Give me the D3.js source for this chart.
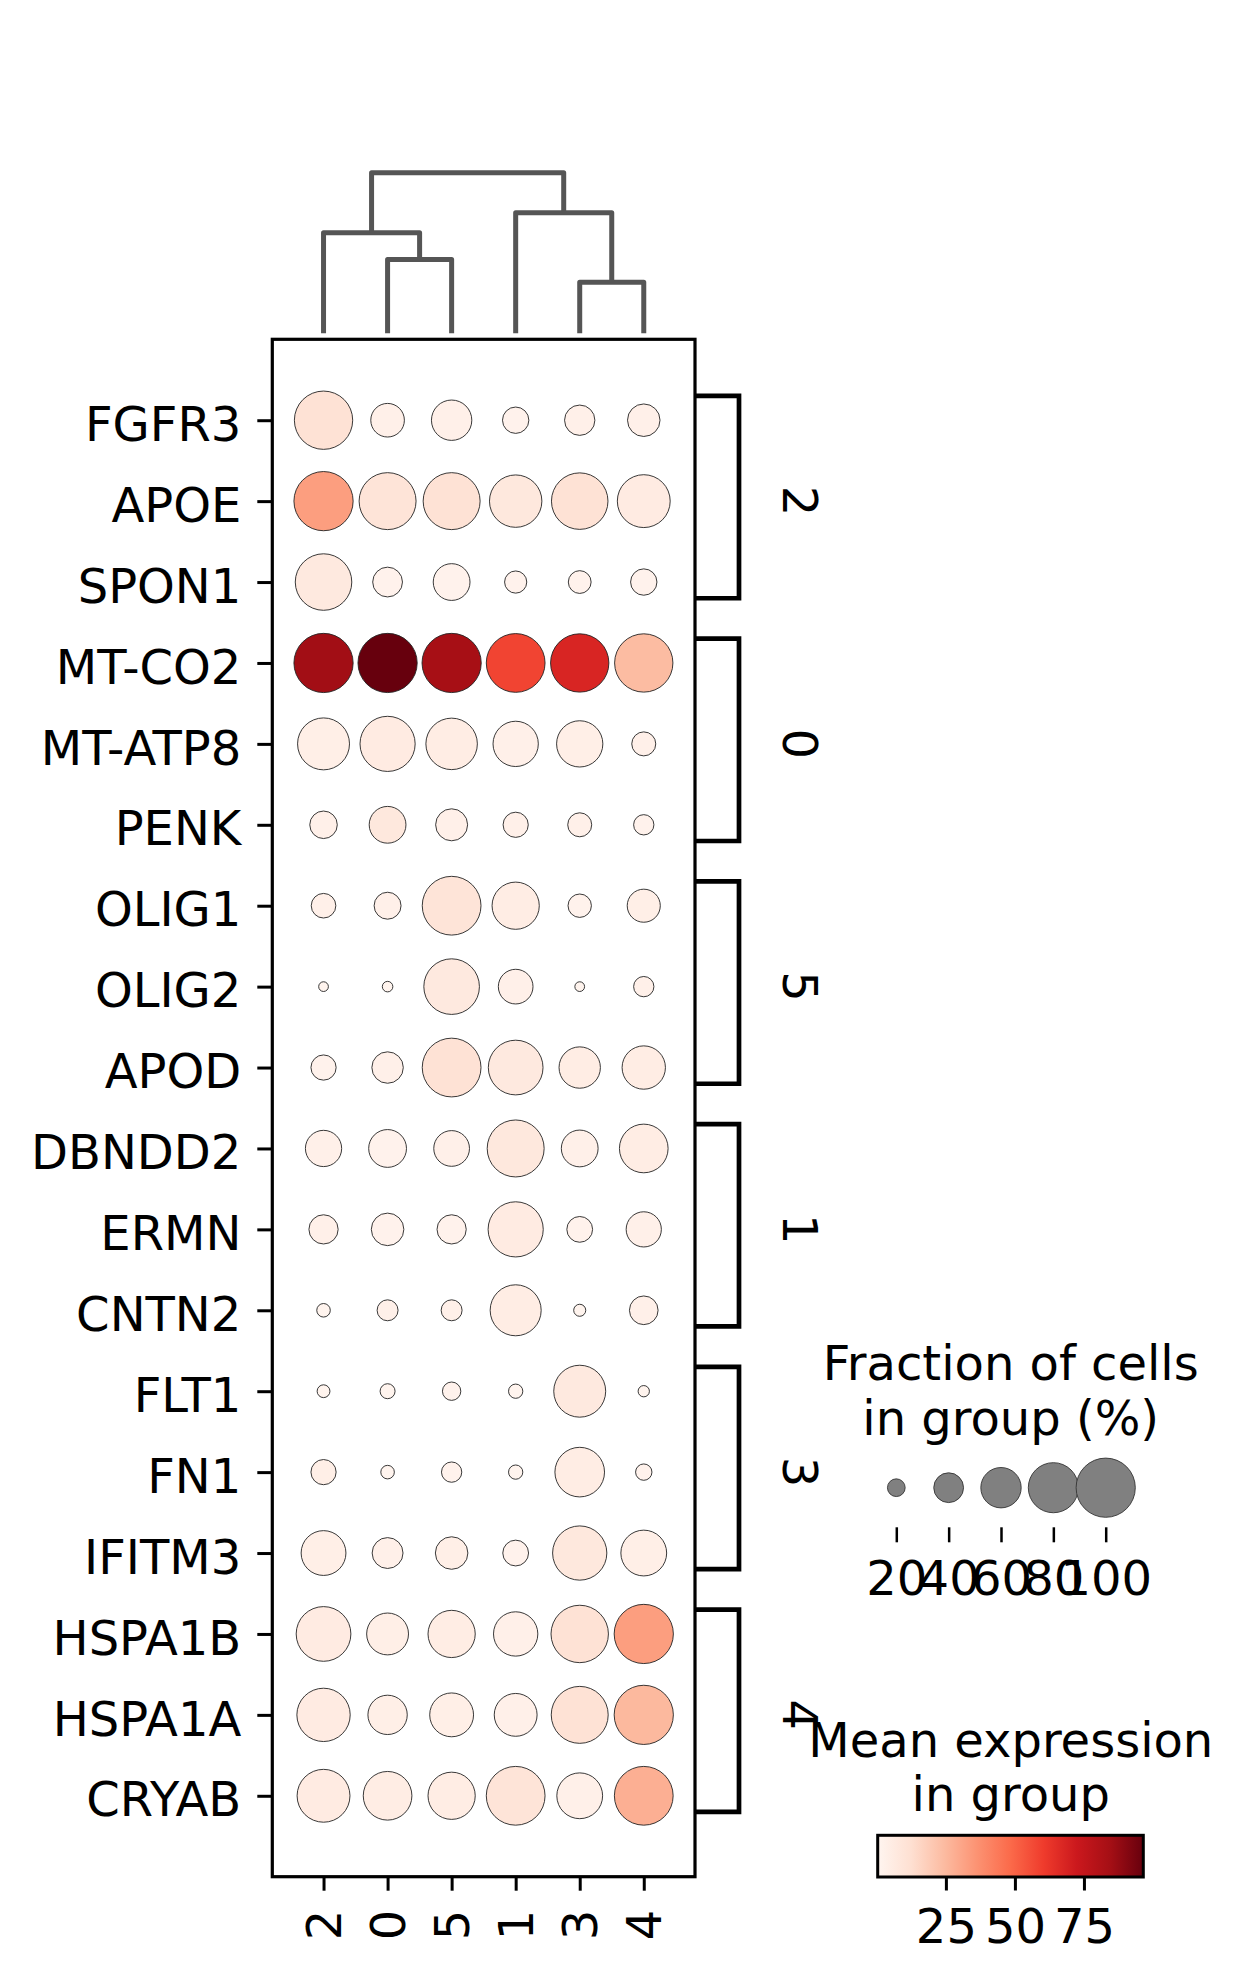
<!DOCTYPE html>
<html>
<head>
<meta charset="utf-8">
<script src="https://cdn.jsdelivr.net/npm/d3@7"></script>
<style>
  html, body { margin: 0; padding: 0; background: #fff; }
  svg { display: block; }
  text { font-family: "DejaVu Sans", sans-serif; fill: #000; }
</style>
</head>
<body>
<svg id="chart" width="1245" height="1983"></svg>
<script>
// ---------------- DATA ----------------
const genes = ["FGFR3","APOE","SPON1","MT-CO2","MT-ATP8","PENK","OLIG1","OLIG2","APOD",
               "DBNDD2","ERMN","CNTN2","FLT1","FN1","IFITM3","HSPA1B","HSPA1A","CRYAB"];
const groups = ["2","0","5","1","3","4"];

// Fraction of cells in group expressing the gene (%), rows = genes, cols = groups
const fractionPct = [
  [98, 47, 60, 34, 41, 45],
  [100, 95, 95, 85, 94, 86],
  [94, 40, 53, 27, 28, 34],
  [100, 100, 100, 99, 98, 98],
  [84, 91, 83, 70, 72, 30],
  [36, 53, 44, 32, 30, 24],
  [31, 35, 99, 74, 29, 46],
  [9, 10, 92, 49, 9, 24],
  [32, 43, 99, 90, 62, 66],
  [52, 55, 51, 95, 53, 77],
  [39, 45, 39, 91, 33, 50],
  [14, 25, 25, 82, 12, 38],
  [13, 16, 21, 15, 84, 11],
  [32, 14, 24, 15, 79, 18],
  [69, 42, 45, 33, 89, 71],
  [90, 63, 74, 68, 96, 100],
  [87, 58, 67, 65, 95, 100],
  [86, 77, 74, 99, 71, 99]
];

// Mean expression in group
const meanExpr = [
  [11, 3, 3, 2, 3, 3],
  [33, 10, 11, 8, 11, 6],
  [7, 2, 2, 2, 2, 2],
  [85, 97, 84, 58, 68, 24],
  [4, 6, 5, 3, 4, 3],
  [3, 8, 3, 3, 3, 2],
  [3, 3, 10, 5, 2, 4],
  [1, 1, 7, 3, 1, 3],
  [2, 3, 11, 7, 5, 5],
  [3, 2, 3, 8, 3, 5],
  [3, 2, 2, 6, 2, 3],
  [1, 3, 3, 5, 1, 3],
  [1, 1, 2, 1, 7, 1],
  [4, 1, 2, 1, 5, 2],
  [4, 3, 4, 2, 8, 4],
  [6, 4, 5, 3, 11, 33],
  [6, 4, 4, 3, 11, 25],
  [6, 5, 5, 10, 3, 28]
];

// Gene groups (brackets on the right)
const geneGroupLabels = ["2", "0", "5", "1", "3", "4"];
const geneGroupFirst  = ["FGFR3", "MT-CO2", "OLIG1", "DBNDD2", "FLT1", "HSPA1B"];
const geneGroupLast   = ["SPON1", "PENK", "APOD", "CNTN2", "IFITM3", "CRYAB"];

// Dendrogram merges over groups (relative heights)
const dendroNodes = ["A", "B", "C", "D", "root"];
const dendroLeft  = ["0", "3", "2", "1", "C"];
const dendroRight = ["5", "4", "A", "B", "D"];
const dendroHeight = [0.46, 0.318, 0.626, 0.75, 1.0];

const sizeLegendTicks = [20, 40, 60, 80, 100];
const colorTicks = [25, 50, 75];
const colorDomain = [0.3, 96.5];
const redsStops = ["#fff5f0","#fee0d2","#fcbba1","#fc9272","#fb6a4a","#ef3b2c","#cb181d","#a50f15","#67000d"];

// ---------------- CHART ----------------
const svg = d3.select("#chart");
svg.append("rect").attr("width", 1245).attr("height", 1983).attr("fill", "#fff");
const FS = 48;

const frame = {left: 272.3, right: 695, top: 339.3, bottom: 1876.7};
const x = d3.scaleLinear().domain([-0.8, groups.length - 0.2]).range([frame.left, frame.right]);
const y = d3.scaleLinear().domain([-1, genes.length]).range([frame.top, frame.bottom]);
const r = d3.scalePow().exponent(0.75).domain([0, 100]).range([0, 29.6]);
const colorStopsDomain = redsStops.map((_, i) => colorDomain[0] + (colorDomain[1] - colorDomain[0]) * i / (redsStops.length - 1));
const color = d3.scaleLinear().domain(colorStopsDomain).range(redsStops).interpolate(d3.interpolateRgb).clamp(true);

// dots
const cells = [];
genes.forEach((g, i) => groups.forEach((grp, j) => cells.push({i, j, f: fractionPct[i][j], m: meanExpr[i][j]})));
svg.append("g").selectAll("circle").data(cells).join("circle")
  .attr("cx", d => x(d.j)).attr("cy", d => y(d.i)).attr("r", d => r(d.f))
  .attr("fill", d => color(d.m)).attr("stroke", "#222").attr("stroke-width", 0.9);

// frame
svg.append("rect").attr("x", frame.left).attr("y", frame.top)
  .attr("width", frame.right - frame.left).attr("height", frame.bottom - frame.top)
  .attr("fill", "none").attr("stroke", "#000").attr("stroke-width", 3.2);

// y axis (genes)
const yAxis = svg.append("g").attr("transform", `translate(${frame.left},0)`)
  .call(d3.axisLeft(y).tickValues(d3.range(genes.length)).tickFormat(i => genes[i]).tickSize(15).tickPadding(16));
yAxis.select(".domain").remove();
yAxis.selectAll(".tick line").attr("stroke", "#000").attr("stroke-width", 3);
yAxis.selectAll(".tick text").attr("font-size", FS).attr("font-family", "DejaVu Sans").attr("dy", "0.42em").attr("fill", "#000");

// x axis (groups)
const xAxis = svg.append("g").attr("transform", `translate(0,${frame.bottom})`)
  .call(d3.axisBottom(x).tickValues(d3.range(groups.length)).tickFormat(j => groups[j]).tickSize(14));
xAxis.select(".domain").remove();
xAxis.selectAll(".tick line").attr("stroke", "#000").attr("stroke-width", 3);
xAxis.selectAll(".tick text").attr("font-size", FS).attr("font-family", "DejaVu Sans")
  .attr("x", null).attr("y", null).attr("dy", null)
  .attr("text-anchor", "end").attr("dominant-baseline", "central")
  .attr("transform", "translate(0,33) rotate(-90)").attr("fill", "#000");

// dendrogram
const dy = d3.scaleLinear().domain([0, 1]).range([333.3, 172.7]);
const nodePos = {};
groups.forEach((g, j) => nodePos[g] = {x: x(j), h: 0});
const dg = svg.append("g").attr("fill", "none").attr("stroke", "#555555").attr("stroke-width", 5)
  .attr("stroke-linejoin", "round").attr("stroke-linecap", "butt");
dendroNodes.forEach((n, k) => {
  const a = nodePos[dendroLeft[k]], b = nodePos[dendroRight[k]], h = dendroHeight[k];
  dg.append("path").attr("d", `M${a.x},${dy(a.h)}V${dy(h)}H${b.x}V${dy(b.h)}`);
  nodePos[n] = {x: (a.x + b.x) / 2, h};
});

// gene group brackets
const bracketX = 739;
const step = y(1) - y(0);
const bg = svg.append("g");
geneGroupLabels.forEach((lab, k) => {
  const i0 = genes.indexOf(geneGroupFirst[k]), i1 = genes.indexOf(geneGroupLast[k]);
  const top = y(i0) - 0.3 * step, bot = y(i1) + 0.2 * step;
  bg.append("path").attr("d", `M${frame.right},${top}H${bracketX}V${bot}H${frame.right}`)
    .attr("fill", "none").attr("stroke", "#000").attr("stroke-width", 4.7).attr("stroke-linejoin", "miter");
  bg.append("text").attr("font-size", FS).attr("text-anchor", "middle").attr("dominant-baseline", "central")
    .attr("transform", `translate(800,${y((i0 + i1) / 2)}) rotate(90)`).text(lab);
});

// size legend
const lg = svg.append("g");
const titleX = 1010.7;
lg.append("text").attr("x", titleX).attr("y", 1380).attr("text-anchor", "middle").attr("font-size", FS).text("Fraction of cells");
lg.append("text").attr("x", titleX).attr("y", 1435.3).attr("text-anchor", "middle").attr("font-size", FS).text("in group (%)");
const sx = d3.scalePoint().domain(sizeLegendTicks).range([896.3, 1105.7]);
lg.selectAll("circle").data(sizeLegendTicks).join("circle")
  .attr("cx", d => sx(d)).attr("cy", 1487.7).attr("r", d => r(d))
  .attr("fill", "#808080").attr("stroke", "#333").attr("stroke-width", 0.9);
const sAxis = lg.append("g").attr("transform", "translate(0,1527.3)")
  .call(d3.axisBottom(sx).tickSize(15).tickPadding(0));
sAxis.select(".domain").remove();
sAxis.selectAll(".tick line").attr("stroke", "#000").attr("stroke-width", 2.5);
sAxis.selectAll(".tick text").attr("font-size", FS).attr("font-family", "DejaVu Sans")
  .attr("y", 67.7).attr("dy", null).attr("fill", "#000");

// color legend
const cg = svg.append("g");
cg.append("text").attr("x", 1010.8).attr("y", 1757.3).attr("text-anchor", "middle").attr("font-size", FS).text("Mean expression");
cg.append("text").attr("x", 1010.8).attr("y", 1811.3).attr("text-anchor", "middle").attr("font-size", FS).text("in group");
const cb = {left: 877.7, right: 1143.3, top: 1835.3, bottom: 1877};
const cx = d3.scaleLinear().domain(colorDomain).range([cb.left, cb.right]);
const grad = svg.append("defs").append("linearGradient").attr("id", "redsGrad")
  .attr("x1", "0%").attr("x2", "100%").attr("y1", "0%").attr("y2", "0%");
redsStops.forEach((c, i) => grad.append("stop").attr("offset", (i / (redsStops.length - 1) * 100) + "%").attr("stop-color", c));
cg.append("rect").attr("x", cb.left).attr("y", cb.top).attr("width", cb.right - cb.left).attr("height", cb.bottom - cb.top)
  .attr("fill", "url(#redsGrad)").attr("stroke", "#000").attr("stroke-width", 3);
const cAxis = cg.append("g").attr("transform", `translate(0,${cb.bottom})`)
  .call(d3.axisBottom(cx).tickValues(colorTicks).tickSize(13.5).tickPadding(0));
cAxis.select(".domain").remove();
cAxis.selectAll(".tick line").attr("stroke", "#000").attr("stroke-width", 3);
cAxis.selectAll(".tick text").attr("font-size", FS).attr("font-family", "DejaVu Sans")
  .attr("y", 66).attr("dy", null).attr("fill", "#000");
</script>
</body>
</html>
